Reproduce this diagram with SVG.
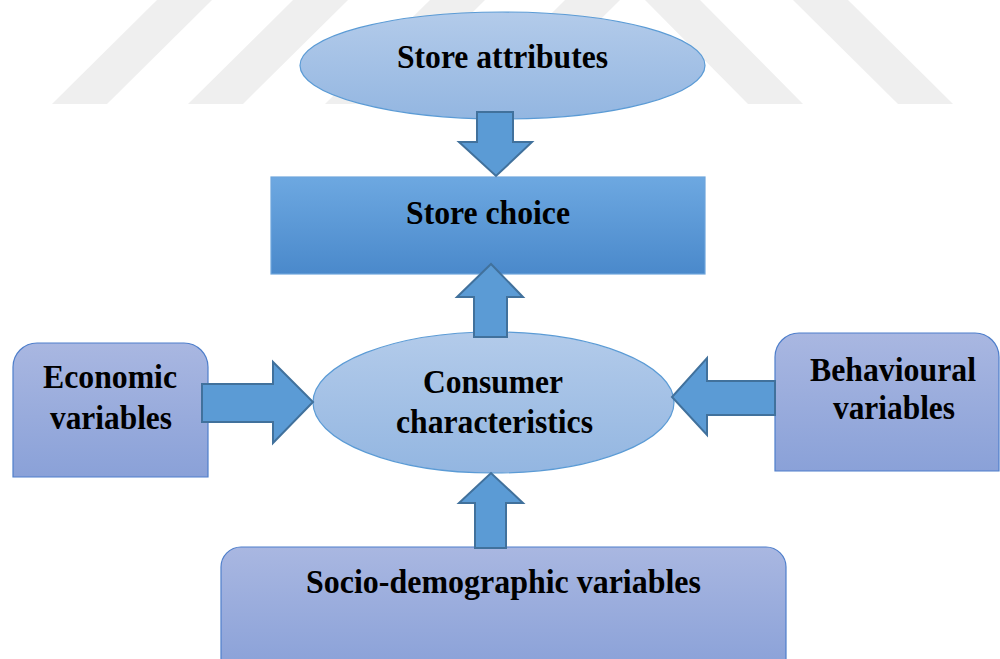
<svg xmlns="http://www.w3.org/2000/svg" width="1000" height="659" viewBox="0 0 1000 659">
  <defs>
    <linearGradient id="gEll" x1="0" y1="0" x2="0" y2="1">
      <stop offset="0" stop-color="#b3cbea"/>
      <stop offset="1" stop-color="#93b6e1"/>
    </linearGradient>
    <linearGradient id="gRect" x1="0" y1="0" x2="0" y2="1">
      <stop offset="0" stop-color="#6da8e1"/>
      <stop offset="1" stop-color="#4a89cb"/>
    </linearGradient>
    <linearGradient id="gBox" x1="0" y1="0" x2="0" y2="1">
      <stop offset="0" stop-color="#a9b7e1"/>
      <stop offset="1" stop-color="#8aa1d8"/>
    </linearGradient>
    <style>
      .wm { fill: #efefef; }
      .ell { fill: url(#gEll); stroke: #5b9bd5; stroke-width: 1.2; }
      .rect { fill: url(#gRect); stroke: #6ea6dc; stroke-width: 1.2; }
      .box { fill: url(#gBox); stroke: #4f7fcb; stroke-width: 1.2; }
      .arr { fill: #5b9bd5; stroke: #41719c; stroke-width: 2; stroke-linejoin: miter; }
      .t { font-family: "Liberation Serif", "Times New Roman", serif; font-weight: bold; font-size: 34px; fill: #000; text-anchor: middle; }
    </style>
  </defs>

  <g id="watermark">
    <polygon class="wm" points="52,104 107,104 212,0 157,0"/>
    <polygon class="wm" points="188,104 243,104 348,0 293,0"/>
    <polygon class="wm" points="325,104 380,104 485,0 430,0"/>
    <polygon class="wm" points="460,104 515,104 620,0 565,0"/>
    <polygon class="wm" points="645,0 700,0 803,104 748,104"/>
    <polygon class="wm" points="793,0 848,0 953,104 898,104"/>
  </g>

  <g id="store-attributes">
    <ellipse class="ell" cx="502.5" cy="65.5" rx="202.5" ry="53.5"/>
    <text class="t" x="502.5" y="68" textLength="211" lengthAdjust="spacingAndGlyphs">Store attributes</text>
  </g>

  <g id="store-choice">
    <rect class="rect" x="271" y="177" width="434" height="97"/>
    <text class="t" x="488" y="224" textLength="164" lengthAdjust="spacingAndGlyphs">Store choice</text>
  </g>

  <g id="consumer-characteristics">
    <ellipse class="ell" cx="493.5" cy="402.5" rx="180.5" ry="70.5"/>
    <text class="t" x="493" y="393" textLength="140" lengthAdjust="spacingAndGlyphs">Consumer</text>
    <text class="t" x="494.5" y="433" textLength="197" lengthAdjust="spacingAndGlyphs">characteristics</text>
  </g>

  <g id="economic-variables">
    <path class="box" d="M13,477 V367 A24,24 0 0 1 37,343 H184 A24,24 0 0 1 208,367 V477 Z"/>
    <text class="t" x="110" y="388" textLength="134" lengthAdjust="spacingAndGlyphs">Economic</text>
    <text class="t" x="111" y="429" textLength="122" lengthAdjust="spacingAndGlyphs">variables</text>
  </g>

  <g id="behavioural-variables">
    <path class="box" d="M775,471 V357 A24,24 0 0 1 799,333 H975 A24,24 0 0 1 999,357 V471 Z"/>
    <text class="t" x="893" y="381" textLength="166" lengthAdjust="spacingAndGlyphs">Behavioural</text>
    <text class="t" x="894" y="419" textLength="122" lengthAdjust="spacingAndGlyphs">variables</text>
  </g>

  <g id="socio-demographic-variables">
    <path class="box" d="M221,670 V567 A20,20 0 0 1 241,547 H766 A20,20 0 0 1 786,567 V670 Z"/>
    <text class="t" x="503.5" y="593" textLength="395" lengthAdjust="spacingAndGlyphs">Socio-demographic variables</text>
  </g>

  <g id="connectors">
    <path class="arr" d="M477,112 H513 V142 H532 L496,176 L459,142 H477 Z"/>
    <path class="arr" d="M474,337 V297 H457 L491,264 L523,297 H507 V337 Z"/>
    <path class="arr" d="M202,384 H273 V362 L313,402 L273,443 V422 H202 Z"/>
    <path class="arr" d="M775,381 H707 V358 L672,397 L707,435 V415 H775 Z"/>
    <path class="arr" d="M475,548 V503 H459 L491,473 L523,503 H506 V548 Z"/>
  </g>
</svg>
